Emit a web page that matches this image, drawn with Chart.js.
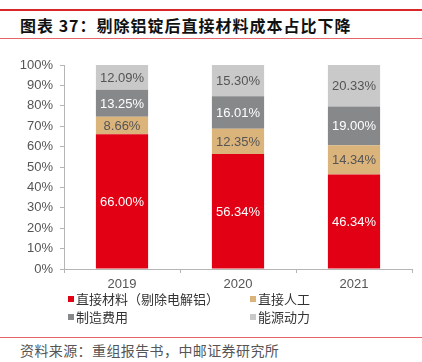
<!DOCTYPE html>
<html>
<head>
<meta charset="utf-8">
<script src="https://cdn.jsdelivr.net/npm/chart.js@4"></script>
<style>
  body { margin: 0; background: #fff; width: 422px; height: 362px; position: relative; overflow: hidden; font-family: "Noto Sans CJK SC", sans-serif; }
  .line-top { position: absolute; left: 0; top: 9px; width: 422px; height: 2px; background: #d9262b; }
  .line-mid { position: absolute; left: 0; top: 38px; width: 422px; height: 1px; background: #e5666a; }
  .line-bot { position: absolute; left: 0; top: 337px; width: 422px; height: 1px; background: #e5666a; }
  .title { position: absolute; left: 20px; top: 13px; font-size: 16px; font-weight: bold; color: #111; letter-spacing: 1px; white-space: nowrap; }
  .source { position: absolute; left: 20px; top: 340px; font-size: 14px; color: #555; white-space: nowrap; letter-spacing: 0.4px; }
  #wrap { position: absolute; left: 0; top: 40px; width: 422px; height: 295px; }
</style>
</head>
<body>
<div class="line-top"></div>
<div class="title">图表 37：剔除铝锭后直接材料成本占比下降</div>
<div class="line-mid"></div>
<div id="wrap"><canvas id="myChart" width="422" height="295"></canvas></div>
<div class="line-bot"></div>
<div class="source">资料来源：重组报告书，中邮证券研究所</div>

<script>
const years = ['2019', '2020', '2021']
const seriesNames = ['直接材料（剔除电解铝）', '直接人工', '制造费用', '能源动力']
const material = [66.00, 56.34, 46.34]
const labour = [8.66, 12.35, 14.34]
const manufacturing = [13.25, 16.01, 19.00]
const energy = [12.09, 15.30, 20.33]
const yTicks = [0, 10, 20, 30, 40, 50, 60, 70, 80, 90, 100]

const colors = ['#e10014', '#dbb47c', '#868889', '#c9c9c9']
const labelColors = ['#ffffff', '#555555', '#ffffff', '#555555']

// draws the value inside each segment
const segmentLabels = {
  id: 'segmentLabels',
  afterDatasetsDraw(chart) {
    const ctx = chart.ctx
    ctx.save()
    ctx.font = '13px "Liberation Sans", Arial, sans-serif'
    ctx.textAlign = 'center'
    ctx.textBaseline = 'middle'
    chart.data.datasets.forEach((ds, i) => {
      const meta = chart.getDatasetMeta(i)
      meta.data.forEach((bar, j) => {
        const mid = (bar.y + bar.base) / 2
        ctx.fillStyle = labelColors[i]
        ctx.fillText(ds.data[j].toFixed(2) + '%', bar.x, mid + 1)
      })
    })
    ctx.restore()
  }
}

// two-column legend under the axis
const gridLegend = {
  id: 'gridLegend',
  afterDraw(chart) {
    const ctx = chart.ctx
    const cols = [68, 250]
    const rows = [259, 277]
    ctx.save()
    ctx.font = '13px "Noto Sans CJK SC", sans-serif'
    ctx.textBaseline = 'middle'
    chart.data.datasets.forEach((ds, i) => {
      const x = cols[i % 2]
      const y = rows[Math.floor(i / 2)]
      ctx.fillStyle = ds.backgroundColor
      ctx.fillRect(x, y - 3, 6, 6)
      ctx.fillStyle = '#333'
      ctx.fillText(ds.label, x + 8, y)
    })
    ctx.restore()
  }
}

const datasets = [material, labour, manufacturing, energy].map((d, i) => ({
  label: seriesNames[i],
  data: d,
  backgroundColor: colors[i],
  barPercentage: 0.9,
  categoryPercentage: 0.5
}))

new Chart(document.getElementById('myChart').getContext('2d'), {
  type: 'bar',
  data: { labels: years, datasets: datasets },
  options: {
    responsive: false,
    animation: false,
    layout: { padding: { top: 25, right: 10, bottom: 42, left: 0 } },
    plugins: { legend: { display: false }, tooltip: { enabled: false } },
    scales: {
      x: {
        stacked: true,
        grid: { drawOnChartArea: false, tickLength: 4, color: '#b5b5b5' },
        border: { color: '#b5b5b5' },
        ticks: { color: '#555', padding: 4, font: { size: 13, family: '"Liberation Sans", Arial, sans-serif' } },
        afterFit(scale) { scale.height = 24 }
      },
      y: {
        stacked: true,
        min: 0,
        max: 100,
        afterBuildTicks(scale) { scale.ticks = yTicks.map(v => ({ value: v })) },
        grid: { drawOnChartArea: false, tickLength: 4, color: '#b5b5b5' },
        border: { color: '#b5b5b5' },
        ticks: {
          color: '#555',
          padding: 7,
          font: { size: 13, family: '"Liberation Sans", Arial, sans-serif' },
          callback: v => v + '%'
        },
        afterFit(scale) { scale.width = 64 }
      }
    }
  },
  plugins: [segmentLabels, gridLegend]
})
</script>
</body>
</html>
